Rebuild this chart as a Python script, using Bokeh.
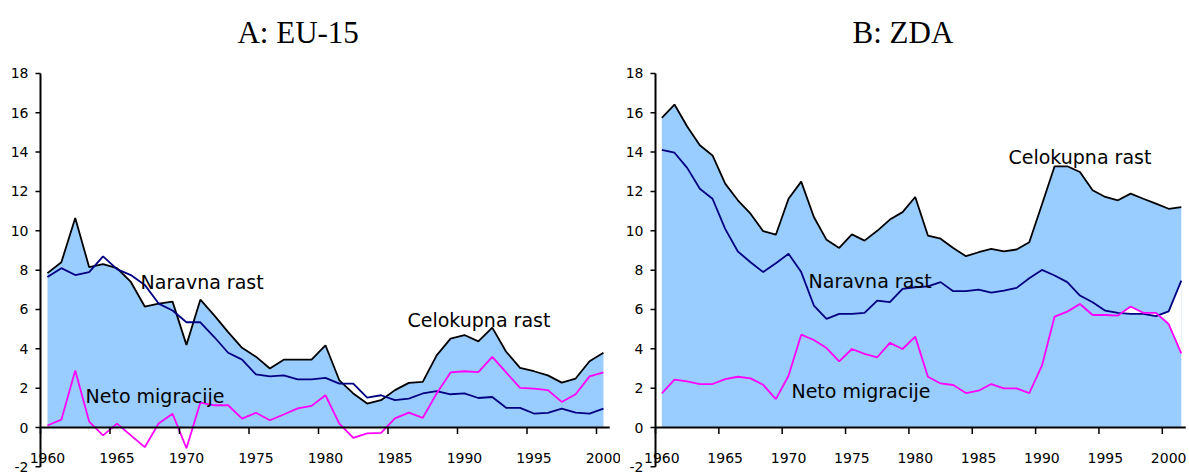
from bokeh.plotting import figure
from bokeh.layouts import row
from bokeh.models import Range1d
from bokeh.core.properties import value
from bokeh.embed import file_html
from bokeh.resources import INLINE

# ---------------- data ----------------
eu_years = list(range(1960, 2001))
eu_total = [7.85, 8.4, 10.65, 8.15, 8.3, 8.1, 7.4, 6.15, 6.3, 6.4,
            4.2, 6.5, 5.7, 4.85, 4.05, 3.6, 3.0, 3.45, 3.45, 3.45,
            4.18, 2.4, 1.73, 1.22, 1.39, 1.9, 2.27, 2.32, 3.67, 4.52,
            4.7, 4.38, 5.08, 3.85, 3.03, 2.86, 2.65, 2.28, 2.49, 3.37,
            3.8]
eu_natural = [7.65, 8.1, 7.75, 7.9, 8.7, 8.05, 7.75, 7.25, 6.3, 5.95,
              5.35, 5.35, 4.6, 3.8, 3.45, 2.7, 2.6, 2.65, 2.45, 2.45,
              2.52, 2.23, 2.23, 1.52, 1.64, 1.39, 1.47, 1.73, 1.85, 1.69,
              1.73, 1.5, 1.55, 1.0, 1.0, 0.71, 0.74, 0.96, 0.76, 0.71,
              0.96]
eu_migration = [0.1, 0.4, 2.9, 0.3, -0.4, 0.2, -0.4, -1.0, 0.2, 0.7,
                -1.05, 1.27, 1.13, 1.13, 0.45, 0.75, 0.37, 0.66, 0.97, 1.1,
                1.64, 0.2, -0.53, -0.3, -0.27, 0.46, 0.76, 0.49, 1.73, 2.8,
                2.86, 2.82, 3.59, 2.8, 2.01, 1.98, 1.9, 1.3, 1.69, 2.6,
                2.8]

us_years = list(range(1960, 2002))
us_total = [15.74, 16.42, 15.3, 14.35, 13.83, 12.4, 11.55, 10.87, 9.98, 9.8,
            11.63, 12.5, 10.7, 9.54, 9.13, 9.82, 9.5, 10.0, 10.57, 10.95,
            11.72, 9.76, 9.6, 9.13, 8.71, 8.91, 9.08, 8.95, 9.05, 9.42,
            11.34, 13.28, 13.28, 12.99, 12.06, 11.72, 11.55, 11.89, 11.63, 11.38,
            11.12, 11.2]
us_natural = [14.12, 13.97, 13.2, 12.14, 11.63, 10.1, 8.95, 8.4, 7.9, 8.35,
              8.83, 7.9, 6.2, 5.52, 5.78, 5.78, 5.83, 6.45, 6.37, 7.05,
              7.13, 7.17, 7.39, 6.93, 6.93, 7.01, 6.86, 6.96, 7.1, 7.59,
              8.01, 7.73, 7.39, 6.71, 6.37, 5.94, 5.83, 5.78, 5.78, 5.66,
              5.9, 7.47]
us_migration = [1.73, 2.43, 2.34, 2.21, 2.21, 2.46, 2.58, 2.5, 2.17, 1.44,
                2.63, 4.72, 4.45, 4.04, 3.36, 3.99, 3.74, 3.57, 4.3, 3.99,
                4.62, 2.58, 2.24, 2.16, 1.75, 1.87, 2.21, 1.99, 1.99, 1.75,
                3.14, 5.64, 5.89, 6.28, 5.72, 5.72, 5.69, 6.15, 5.83, 5.83,
                5.26, 3.77]

tick_years = [1960, 1965, 1970, 1975, 1980, 1985, 1990, 1995, 2000]
tick_labels = [str(t) for t in tick_years]
y_ticks = [-2, 0, 2, 4, 6, 8, 10, 12, 14, 16, 18]
y_tick_labels = [str(v) for v in y_ticks]

series_labels = ["Celokupna rast", "Naravna rast", "Neto migracije"]
titles = ["A: EU-15", "B: ZDA"]

# ---------------- layout / styling ----------------
FILL = "#99CCFF"
FONT = "DejaVu Sans"
H = 475
SY = 19.67          # px per unit on y
Y0_PX = 427.0       # pixel row of y = 0
Y_BOT = -(H - Y0_PX) / SY
Y_TOP = Y0_PX / SY


def panel(years, total, natural, migration, title, title_pos, label_pos,
          width, axis_px, sx, axis_end, white_from=None):
    x_start = years[0] - axis_px / sx
    x_end = x_start + width / sx
    p = figure(width=width, height=H, output_backend="svg", toolbar_location=None,
               x_range=Range1d(x_start, x_end), y_range=Range1d(Y_BOT, Y_TOP),
               x_axis_location=None, y_axis_location=None,
               min_border=0, min_border_left=0, min_border_right=0,
               min_border_top=0, min_border_bottom=0)
    p.outline_line_color = None
    p.grid.visible = False
    p.background_fill_color = "white"
    x0 = years[0]

    xs = [y + 0.5 for y in years]
    p.varea(x=xs, y1=[0] * len(xs), y2=total, fill_color=FILL)
    if white_from is not None:
        i = years.index(white_from)
        p.varea(x=xs[i:], y1=natural[i:], y2=migration[i:], fill_color="white")

    p.line(xs, total, line_color="black", line_width=1.8)
    p.line(xs, natural, line_color="#000080", line_width=1.8)
    p.line(xs, migration, line_color="#FF00FF", line_width=1.8)

    # x axis at zero
    p.segment(x0=[x0], y0=[0], x1=[axis_end], y1=[0], line_color="black", line_width=2)
    p.segment(x0=tick_years, y0=[0] * len(tick_years), x1=tick_years,
              y1=[-6.5 / SY] * len(tick_years), line_color="black", line_width=1.5)
    p.text(x=[t + 0.5 for t in tick_years], y=[-30 / SY] * len(tick_years), text=tick_labels,
           text_font=value(FONT), text_font_size="14px", text_align="center",
           text_baseline="alphabetic", text_color="black")

    # y axis
    p.segment(x0=[x0], y0=[y_ticks[0]], x1=[x0], y1=[y_ticks[-1]], line_color="black",
              line_width=2)
    p.segment(x0=[x0] * len(y_ticks), y0=y_ticks, x1=[x0 - 5 / sx] * len(y_ticks), y1=y_ticks,
              line_color="black", line_width=1.5)
    p.text(x=[x0 - 12 / sx] * len(y_ticks), y=y_ticks, text=y_tick_labels,
           text_font=value(FONT), text_font_size="14px", text_align="right",
           text_baseline="middle", text_color="black")

    # series labels
    p.text(x=[lp[0] for lp in label_pos], y=[lp[1] for lp in label_pos], text=series_labels,
           text_font=value(FONT), text_font_size="19px", text_align="left",
           text_baseline="alphabetic", text_color="black")

    # title
    p.text(x=[title_pos[0]], y=[title_pos[1]], text=[title],
           text_font=value("Liberation Serif"), text_font_size="31px",
           text_align="left", text_baseline="alphabetic", text_color="black")
    return p


p1 = panel(eu_years, eu_total, eu_natural, eu_migration, titles[0], (1974.17, 20.06),
           [(1986.4, 5.48), (1967.2, 7.41), (1963.24, 1.59)],
           620, 40, 13.9, 2000.95)
p2 = panel(us_years, us_total, us_natural, us_migration, titles[1], (1975.55, 20.06),
           [(1987.86, 13.75), (1972.08, 7.43), (1970.73, 1.84)],
           569, 35, 12.67, 2001.85, white_from=1996)

layout = row(p1, p2)
open("out.html", "w").write(file_html(layout, INLINE))
